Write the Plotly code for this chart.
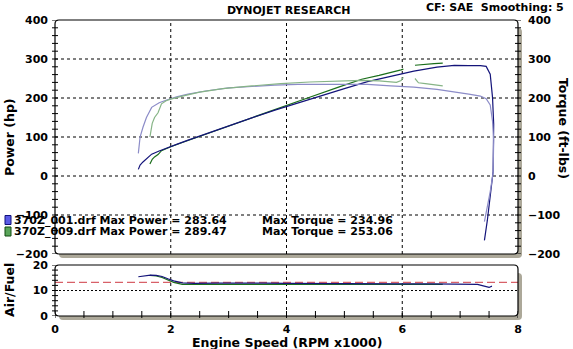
import plotly.graph_objects as go

# ---------------- data ----------------
rpm_001 = [1.44, 1.47, 1.52, 1.58, 1.67, 1.80, 1.93, 2.1, 2.3, 2.6, 3.0, 3.4, 3.8, 4.2, 4.6,
           5.0, 5.4, 5.8, 6.2, 6.6, 6.9, 7.15, 7.35, 7.45, 7.52, 7.56, 7.58, 7.57, 7.52, 7.47, 7.42]
power_001 = [17, 28, 36, 45, 56, 64, 72, 81, 92, 108, 129, 149, 169, 188, 207,
             224, 242, 255, 269, 279, 283.6, 283, 283, 281, 261, 201, 133, 11, -57, -114, -165]
torque_001 = [58, 100, 125, 150, 176, 188, 195, 203, 210, 218, 226, 230, 233, 235, 235,
              234.96, 235, 231, 228, 222, 216, 210, 205, 198, 182, 140, 92, 8, -40, -80, -117]

rpm_009 = [1.64, 1.68, 1.72, 1.78, 1.84, 1.92, 2.0, 2.2, 2.5, 2.9, 3.4, 3.9, 4.4, 4.9, 5.3,
           5.6, 5.9, 5.98, 6.02, 6.12, 6.22, 6.28, 6.4, 6.55, 6.7]
power_009 = [31, 43, 49, 55, 65, 71, 75, 86, 102, 124, 150, 176, 202, 228, 248,
             258, 268, 272, 274, None, 284, 285, 287, 288, 289.47]
torque_009 = [100, 135, 150, 162, 185, 193, 197, 205, 215, 224, 231, 237, 241, 244, 245,
              244, 240, 245, 253.06, None, 250, 239, 237, 234, 231]

afr_rpm_001 = [1.44, 1.55, 1.65, 1.75, 1.85, 1.95, 2.05, 2.2, 2.4, 2.8, 3.2, 3.6, 4.0, 4.5,
               5.0, 5.5, 6.0, 6.5, 7.0, 7.3, 7.4, 7.5, 7.55]
afr_001 = [15.4, 15.7, 16.0, 15.9, 15.5, 14.6, 13.8, 13.0, 12.8, 12.9, 13.0, 12.9, 12.8, 12.7,
           12.7, 12.6, 12.6, 12.6, 12.6, 12.4, 11.8, 11.2, 11.7]
afr_rpm_009 = [1.64, 1.75, 1.85, 1.95, 2.05, 2.2, 2.5, 3.0, 3.5, 4.0, 4.5, 5.0, 5.5, 6.0, 6.4, 6.7]
afr_009 = [15.9, 15.7, 15.1, 14.2, 13.2, 12.4, 12.4, 12.5, 12.6, 12.5, 12.5, 12.5, 12.5, 12.4, 12.5, 12.4]

afr_target = 13.2

run_names = ["370Z_001.drf", "370Z_009.drf"]
max_power = [283.64, 289.47]
max_torque = [234.96, 253.06]

power_ticks = [-200, -100, 0, 100, 200, 300, 400]
afr_ticks = [0, 10, 20]
rpm_ticks = [0, 2, 4, 6, 8]
grid_rpm = [2, 4, 6]
grid_power = [-100, 0, 100, 200, 300]
grid_afr = [10]

# ---------------- layout helpers ----------------
W, H = 573, 349
L, R, T, B = 55, 55, 20, 33
PW, PH = W - L - R, H - T - B


def px(p):
    return (p - L) / PW


def py(p):
    return (H - B - p) / PH


main_dom = [py(254), 1.0]
low_dom = [0.0, py(265)]

FONT = "DejaVu Sans"
navy = "#14147a"
lav = "#8c8cc8"
dgreen = "#1a6e1a"
lgreen = "#86b486"

fig = go.Figure()

fig.add_trace(go.Scatter(x=rpm_001, y=torque_001, yaxis="y3", mode="lines",
                         line=dict(color=lav, width=1.2), showlegend=False))
fig.add_trace(go.Scatter(x=rpm_009, y=torque_009, yaxis="y3", mode="lines",
                         line=dict(color=lgreen, width=1.2), showlegend=False))
fig.add_trace(go.Scatter(x=rpm_009, y=power_009, mode="lines",
                         line=dict(color=dgreen, width=1.2), showlegend=False))
fig.add_trace(go.Scatter(x=rpm_001, y=power_001, mode="lines",
                         line=dict(color=navy, width=1.2), showlegend=False))

fig.add_trace(go.Scatter(x=[0, 8], y=[afr_target, afr_target], xaxis="x2", yaxis="y2", mode="lines",
                         line=dict(color="#d86068", width=1.2, dash="8px,4px"), showlegend=False))
fig.add_trace(go.Scatter(x=afr_rpm_009, y=afr_009, xaxis="x2", yaxis="y2", mode="lines",
                         line=dict(color=dgreen, width=1.2), showlegend=False))
fig.add_trace(go.Scatter(x=afr_rpm_001, y=afr_001, xaxis="x2", yaxis="y2", mode="lines",
                         line=dict(color=navy, width=1.2), showlegend=False))

tickfont = dict(family=FONT, size=11, color="black", weight="bold")

fig.update_layout(
    width=W, height=H, margin=dict(l=L, r=R, t=T, b=B),
    paper_bgcolor="white", plot_bgcolor="white",
    xaxis=dict(domain=[0, 1], anchor="y", range=[0, 8], showticklabels=False,
               showgrid=False, zeroline=False, ticks=""),
    yaxis=dict(domain=main_dom, anchor="x", range=[-200, 400], tickvals=power_ticks,
               showgrid=False, zeroline=False, ticks="", tickfont=tickfont, ticklabelstandoff=6),
    yaxis3=dict(overlaying="y", side="right", anchor="x", range=[-200, 400], tickvals=power_ticks,
                showgrid=False, zeroline=False, ticks="", tickfont=tickfont, ticklabelstandoff=9),
    xaxis2=dict(domain=[0, 1], anchor="y2", range=[0, 8], tickvals=rpm_ticks, showgrid=False,
                zeroline=False, ticks="", tickfont=tickfont, ticklabelstandoff=5),
    yaxis2=dict(domain=low_dom, anchor="x2", range=[0, 20], tickvals=afr_ticks, showgrid=False,
                zeroline=False, ticks="", tickfont=tickfont, ticklabelstandoff=6),
)

shapes = []
shadow = "#aca899"


def rounded(x0, y0, x1, y1, r=4):
    rx, ry = r / PW, r / PH
    return (f"M {x0+rx},{y1} L {x1-rx},{y1} Q {x1},{y1} {x1},{y1-ry} L {x1},{y0+ry} "
            f"Q {x1},{y0} {x1-rx},{y0} L {x0+rx},{y0} Q {x0},{y0} {x0},{y0+ry} "
            f"L {x0},{y1-ry} Q {x0},{y1} {x0+rx},{y1} Z")


for (top, bot) in [(20, 254), (265, 316)]:
    # shadow
    shapes.append(dict(type="path", xref="paper", yref="paper",
                       path=rounded(px(L + 4), py(bot + 4), px(L + PW + 4), py(top + 8), 4),
                       fillcolor=shadow, line=dict(width=0), layer="below"))
    shapes.append(dict(type="rect", xref="paper", yref="paper",
                       x0=px(L), x1=px(L + PW), y0=py(bot), y1=py(top),
                       fillcolor="white", line=dict(width=0), layer="below"))

# grid lines
for g in grid_rpm:
    shapes.append(dict(type="line", xref="x", yref="paper", x0=g, x1=g, y0=main_dom[0], y1=main_dom[1],
                       line=dict(color="black", width=1, dash="3px,3px"), layer="below"))
    shapes.append(dict(type="line", xref="x2", yref="paper", x0=g, x1=g, y0=low_dom[0], y1=low_dom[1],
                       line=dict(color="black", width=1, dash="3px,3px"), layer="below"))
for g in grid_power:
    shapes.append(dict(type="line", xref="paper", yref="y", x0=0, x1=1, y0=g, y1=g,
                       line=dict(color="black", width=1, dash="3px,3px"), layer="below"))
for g in grid_afr:
    shapes.append(dict(type="line", xref="paper", yref="y2", x0=0, x1=1, y0=g, y1=g,
                       line=dict(color="black", width=1, dash="2px,2px"), layer="below"))

# frames
for (top, bot) in [(20, 254), (265, 316)]:
    shapes.append(dict(type="path", xref="paper", yref="paper",
                       path=rounded(px(L), py(bot), px(L + PW), py(top), 4),
                       line=dict(color="black", width=1.2), fillcolor="rgba(0,0,0,0)"))

# cross ticks
for v in range(-200, 401, 20):
    shapes.append(dict(type="line", xref="paper", yref="y", x0=px(L - 3), x1=px(L + 3), y0=v, y1=v,
                       line=dict(color="black", width=1)))
    shapes.append(dict(type="line", xref="paper", yref="y", x0=px(L + PW - 3), x1=px(L + PW + 3),
                       y0=v, y1=v, line=dict(color="black", width=1)))
for v in range(0, 21, 2):
    shapes.append(dict(type="line", xref="paper", yref="y2", x0=px(L - 3), x1=px(L + 3), y0=v, y1=v,
                       line=dict(color="black", width=1)))
for i in range(17):
    v = i * 0.5
    shapes.append(dict(type="line", xref="x2", yref="paper", x0=v, x1=v, y0=py(318), y1=py(311),
                       line=dict(color="black", width=1)))

# legend squares
sq_cols = [("#5a5ae6", "#10107a"), ("#5aa55a", "#104a10")]
rows = [220, 231.5]
for (fc, lc), yy in zip(sq_cols, rows):
    shapes.append(dict(type="rect", xref="paper", yref="paper", x0=px(5), x1=px(11),
                       y0=py(yy + 4.5), y1=py(yy - 4.5), fillcolor=fc, line=dict(color=lc, width=1)))

fig.update_layout(shapes=shapes)

lab = dict(family=FONT, size=11, color="black", weight="bold")
ttl = dict(family=FONT, size=12.5, color="black", weight="bold")
ann = []
for name, mp, mt, yy in zip(run_names, max_power, max_torque, rows):
    ann.append(dict(xref="paper", yref="paper", x=px(12), y=py(yy), xanchor="left", yanchor="middle",
                    text=f"{name} Max Power = {mp:.2f}", showarrow=False, font=lab))
    ann.append(dict(xref="paper", yref="paper", x=px(260), y=py(yy), xanchor="left", yanchor="middle",
                    text=f"Max Torque = {mt:.2f}", showarrow=False, font=lab))

ann += [
    dict(xref="paper", yref="paper", x=px(288), y=py(11), text="DYNOJET RESEARCH", showarrow=False,
         font=lab, xanchor="center", yanchor="middle"),
    dict(xref="paper", yref="paper", x=px(566), y=py(8), text="CF: SAE  Smoothing: 5", showarrow=False,
         font=lab, xanchor="right", yanchor="middle"),
    dict(xref="paper", yref="paper", x=px(9), y=py(137), text="Power (hp)", textangle=-90,
         showarrow=False, font=ttl, xanchor="center", yanchor="middle"),
    dict(xref="paper", yref="paper", x=px(564), y=py(128), text="Torque (ft-lbs)", textangle=90,
         showarrow=False, font=ttl, xanchor="center", yanchor="middle"),
    dict(xref="paper", yref="paper", x=px(9), y=py(290), text="Air/Fuel", textangle=-90,
         showarrow=False, font=ttl, xanchor="center", yanchor="middle"),
    dict(xref="paper", yref="paper", x=px(287), y=py(342), text="Engine Speed (RPM x1000)",
         showarrow=False, font=ttl, xanchor="center", yanchor="middle"),
]
fig.update_layout(annotations=ann)

fig.write_html("out.html")
